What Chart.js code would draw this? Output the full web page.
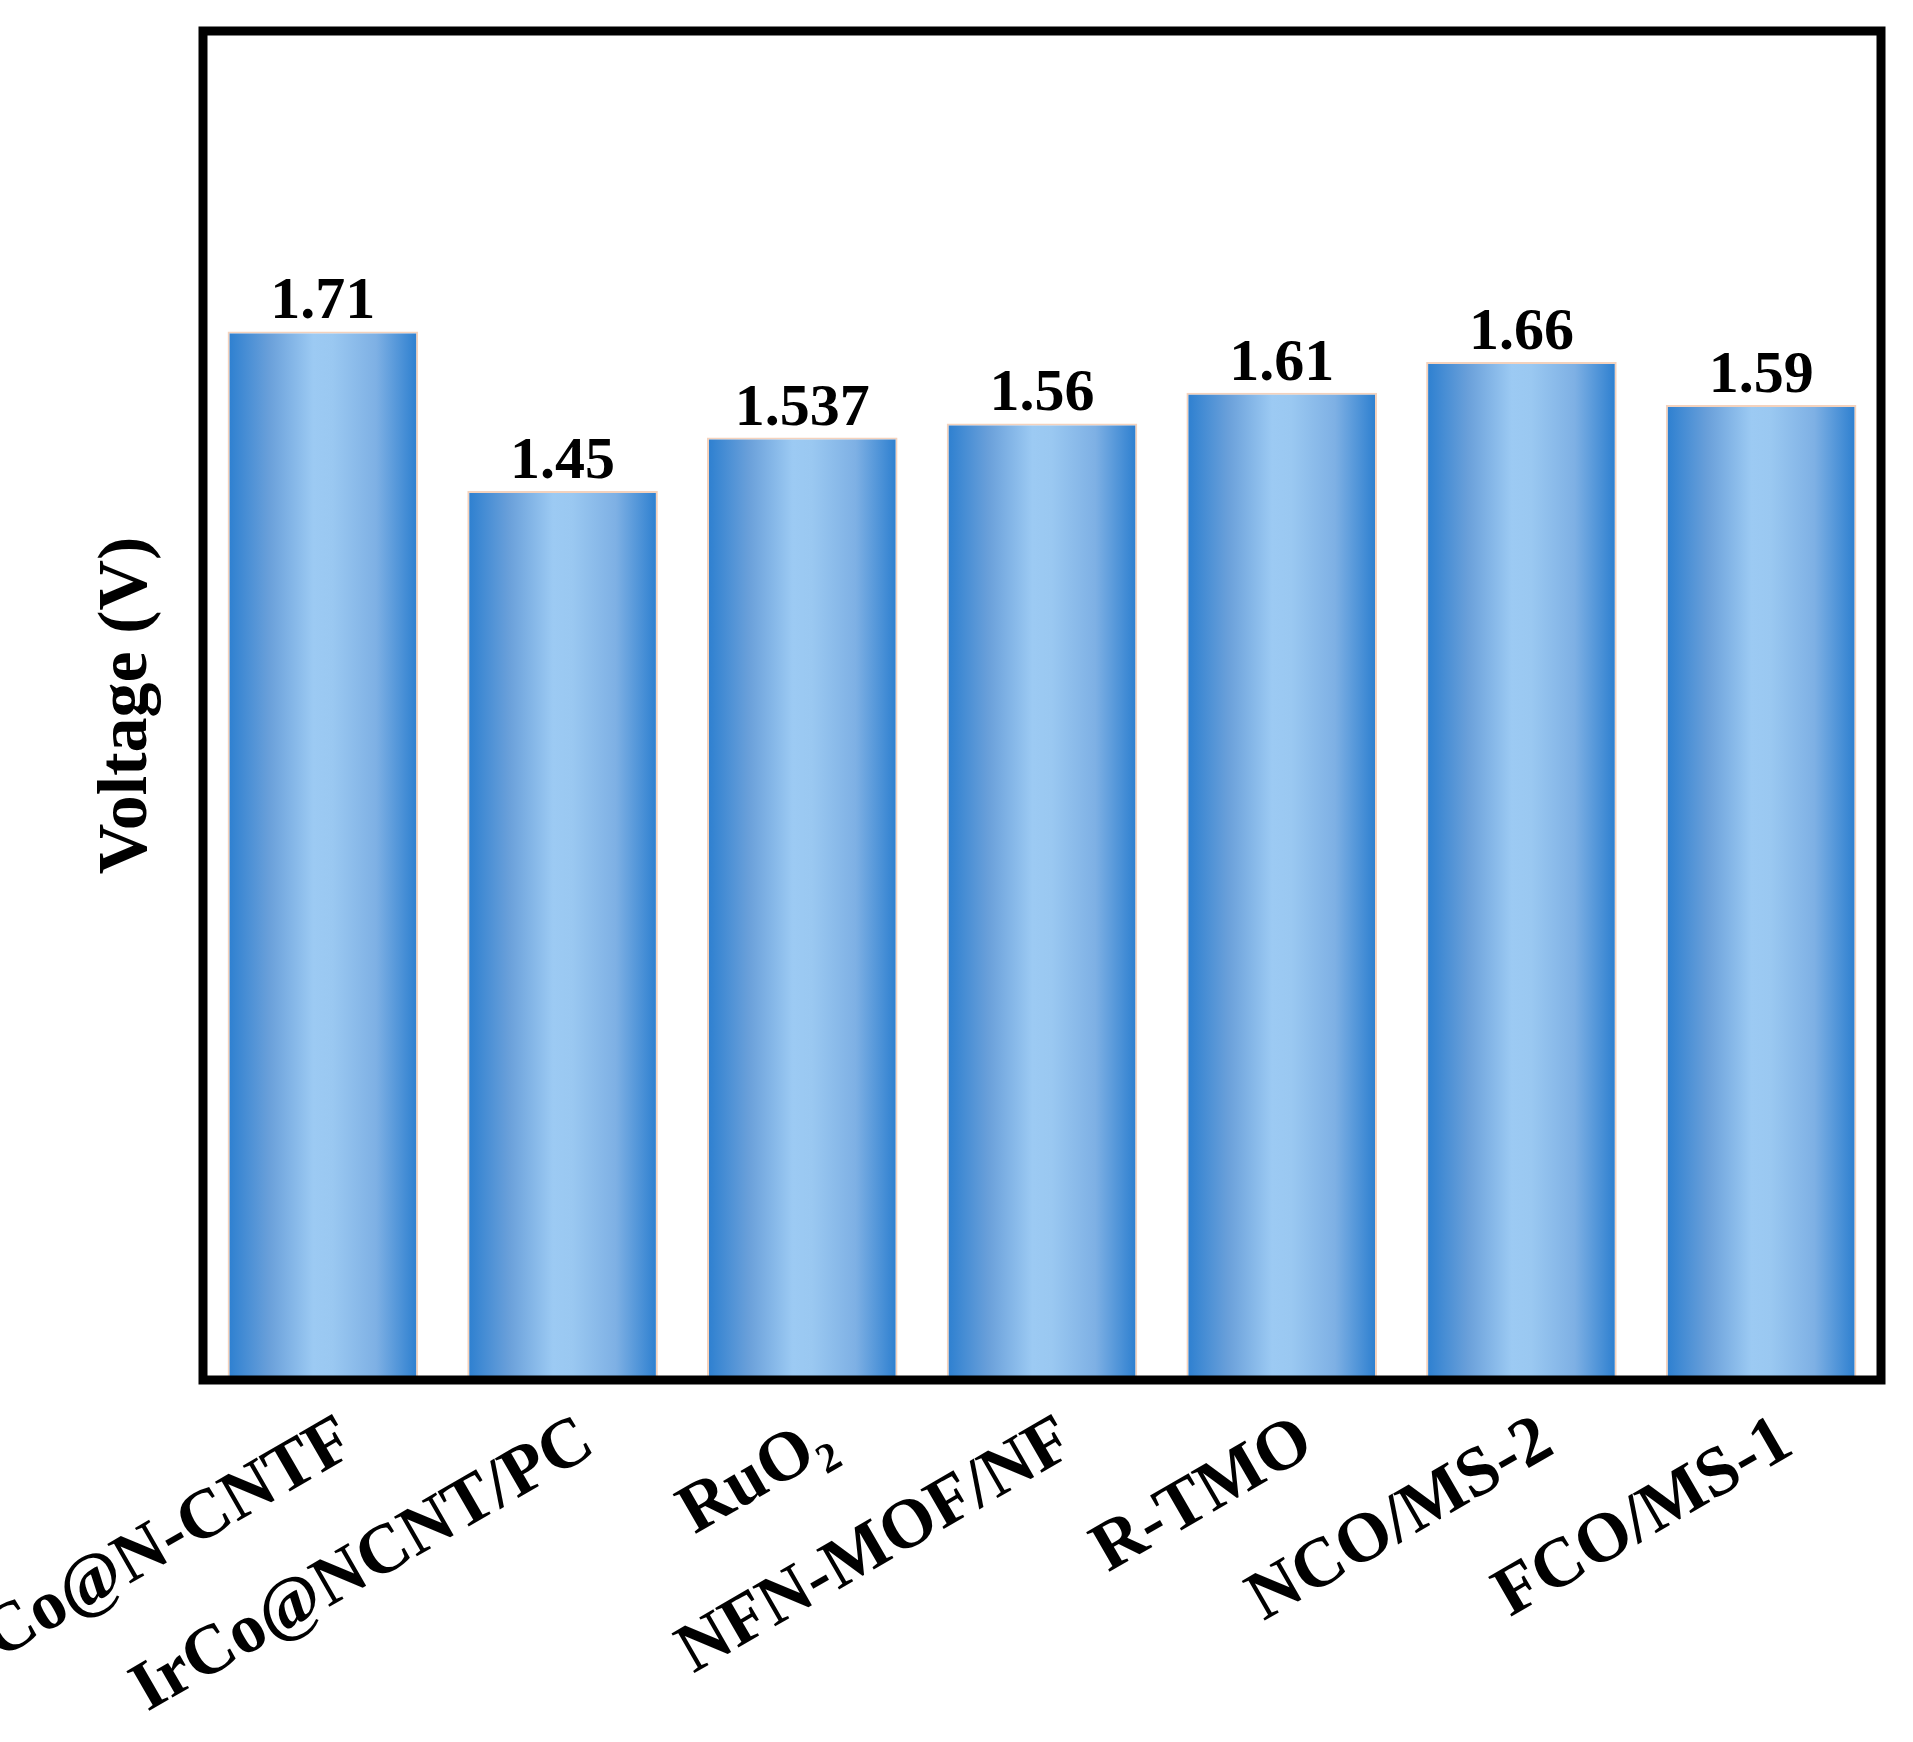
<!DOCTYPE html>
<html><head><meta charset="utf-8">
<script src="https://cdn.jsdelivr.net/npm/chart.js@4.4.1/dist/chart.umd.min.js"></script>
<style>html,body{margin:0;padding:0;background:#fff;} canvas{display:block;}</style>
</head><body>
<canvas id="c" width="1913" height="1742"></canvas>
<script>
const categories = ['Co@N-CNTF', 'IrCo@NCNT/PC', 'RuO\u2082', 'NFN-MOF/NF', 'R-TMO', 'NCO/MS-2', 'FCO/MS-1'];
const voltages = [1.71, 1.45, 1.537, 1.56, 1.61, 1.66, 1.59];
const valueLabels = ['1.71', '1.45', '1.537', '1.56', '1.61', '1.66', '1.59'];
const yTitle = 'Voltage (V)';
const yMin = 0;
const yMax = 2.2;

const FONT = "'Liberation Serif', 'Times New Roman', Times, serif";
const BAR_PCT = 0.795;

function barGradient(ctx) {
  const chart = ctx.chart;
  const xs = chart.scales && chart.scales.x;
  if (!xs || !chart.chartArea || ctx.type !== 'data') return '#6aa0da';
  const cx = xs.getPixelForValue(ctx.dataIndex);
  const w = (xs.width / categories.length) * BAR_PCT;
  const g = chart.ctx.createLinearGradient(cx - w / 2, 0, cx + w / 2, 0);
  g.addColorStop(0.0, '#2c7fd0');
  g.addColorStop(0.22, '#6aa0da');
  g.addColorStop(0.45, '#9ccaf3');
  g.addColorStop(0.55, '#9ac8f1');
  g.addColorStop(0.78, '#7eb0e4');
  g.addColorStop(1.0, '#2b7ecf');
  return g;
}

const framePlugin = {
  id: 'frame',
  afterDraw(chart) {
    const {ctx, chartArea: a} = chart;
    ctx.save();
    ctx.strokeStyle = '#000';
    ctx.lineWidth = 9;
    ctx.strokeRect(a.left, a.top, a.right - a.left, a.bottom - a.top);
    ctx.restore();
  }
};

const valuePlugin = {
  id: 'values',
  afterDatasetsDraw(chart) {
    const {ctx} = chart;
    const meta = chart.getDatasetMeta(0);
    ctx.save();
    ctx.fillStyle = '#000';
    ctx.font = 'bold 60px ' + FONT;
    ctx.textAlign = 'center';
    ctx.textBaseline = 'alphabetic';
    meta.data.forEach((el, i) => {
      ctx.fillText(valueLabels[i], el.x, el.y - 13);
    });
    ctx.restore();
  }
};

new Chart(document.getElementById('c'), {
  type: 'bar',
  data: {
    labels: categories,
    datasets: [{
      data: voltages,
      backgroundColor: barGradient,
      borderColor: '#f4d2bd',
      borderWidth: 2,
      categoryPercentage: 1.0,
      barPercentage: BAR_PCT
    }]
  },
  options: {
    responsive: false,
    animation: false,
    devicePixelRatio: 1,
    layout: {padding: {left: 0, top: 31, right: 32, bottom: 0}},
    plugins: {legend: {display: false}, tooltip: {enabled: false}, title: {display: false}},
    scales: {
      x: {
        grid: {display: false, drawTicks: false},
        border: {display: false},
        ticks: {
          autoSkip: false,
          maxRotation: 30,
          minRotation: 30,
          padding: 20,
          labelOffset: 26,
          color: '#000',
          font: {family: FONT, size: 70, weight: 'bold'}
        },
        afterFit(s) { s.height = 362; s.paddingLeft = 0; s.paddingRight = 0; }
      },
      y: {
        min: yMin,
        max: yMax,
        grid: {display: false, drawTicks: false},
        border: {display: false},
        ticks: {display: false},
        title: {
          display: true,
          text: yTitle,
          color: '#000',
          font: {family: FONT, size: 70, weight: 'bold'},
          padding: {top: 86, bottom: 0}
        },
        afterFit(s) { s.width = 203; s.paddingTop = 0; s.paddingBottom = 0; }
      }
    }
  },
  plugins: [framePlugin, valuePlugin]
});
</script>
</body></html>
